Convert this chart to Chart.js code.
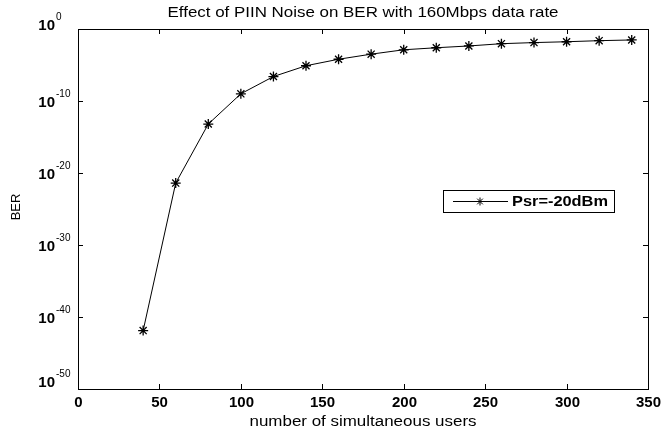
<!DOCTYPE html>
<html>
<head>
<meta charset="utf-8">
<script src="https://cdn.jsdelivr.net/npm/chart.js@4.4.0/dist/chart.umd.min.js"></script>
<style>
html,body{margin:0;padding:0;background:#fff;}
#wrap{width:662px;height:432px;position:relative;}
</style>
</head>
<body>
<div id="wrap"><canvas id="c"></canvas></div>
<script>
// ---- data ----
const users = [40, 60, 80, 100, 120, 140, 160, 180, 200, 220, 240, 260, 280, 300, 320, 340];
const ber = [1.3e-42, 4.0e-22, 6.3e-14, 1.0e-9, 2.5e-7, 7.9e-6, 6.3e-5, 3.2e-4, 1.3e-3, 2.5e-3, 4.4e-3, 9.1e-3, 1.3e-2, 1.7e-2, 2.4e-2, 3.0e-2];
const xTickValues = [0, 50, 100, 150, 200, 250, 300, 350];
const yTickExponents = [0, -10, -20, -30, -40, -50];
const titleText = 'Effect of PIIN Noise on BER with 160Mbps data rate';
const xTitleText = 'number of simultaneous users';
const yTitleText = 'BER';
const seriesLabel = 'Psr=-20dBm';

const FONT = '"Liberation Sans", Arial, sans-serif';

function fitText(ctx, text, x, cy, targetW, align) {
  const w = ctx.measureText(text).width;
  const s = targetW ? targetW / w : 1;
  ctx.save();
  ctx.translate(x, cy);
  ctx.scale(s, 1);
  ctx.textAlign = align || 'center';
  ctx.textBaseline = 'middle';
  ctx.fillText(text, 0, 0);
  ctx.restore();
}

function drawStar(ctx, x, y, r) {
  if (Chart.helpers && Chart.helpers.drawPoint) {
    Chart.helpers.drawPoint(ctx, {pointStyle: 'star', radius: r, rotation: 0, borderWidth: 1}, x, y);
  }
}

const decor = {
  id: 'decor',
  afterDraw(chart) {
    const ctx = chart.ctx;
    const a = chart.chartArea;
    const xs = chart.scales.x, ys = chart.scales.y;
    ctx.save();
    // frame
    ctx.strokeStyle = '#000';
    ctx.lineWidth = 1;
    ctx.strokeRect(Math.round(a.left) + 0.5, Math.round(a.top) + 0.5, Math.round(a.right - a.left), Math.round(a.bottom - a.top));
    // x ticks (inward) and labels
    ctx.fillStyle = '#000';
    ctx.font = 'bold 15px ' + FONT;
    ctx.textAlign = 'center';
    ctx.textBaseline = 'middle';
    ctx.beginPath();
    xTickValues.forEach(v => {
      const px = Math.round(xs.getPixelForValue(v)) + 0.5;
      ctx.moveTo(px, a.bottom); ctx.lineTo(px, a.bottom - 5);
      ctx.moveTo(px, a.top); ctx.lineTo(px, a.top + 5);
      ctx.fillText(String(v), px, a.bottom + 14);
    });
    // y ticks (inward) and labels
    yTickExponents.forEach(e => {
      const py = Math.round(ys.getPixelForValue(Math.pow(10, e))) + 0.5;
      ctx.moveTo(a.left, py); ctx.lineTo(a.left + 5, py);
      ctx.moveTo(a.right, py); ctx.lineTo(a.right - 5, py);
      let off = 1;
      if (e === yTickExponents[0]) off = -4;
      if (e === yTickExponents[yTickExponents.length - 1]) off = -7;
      const yc = py + off;
      ctx.font = 'bold 15px ' + FONT;
      ctx.textAlign = 'right';
      ctx.textBaseline = 'middle';
      ctx.fillText('10', 55, yc);
      ctx.font = '10px ' + FONT;
      ctx.textAlign = 'left';
      ctx.fillText(String(e), 56, yc - 8);
    });
    ctx.stroke();
    // titles
    ctx.font = '14px ' + FONT;
    fitText(ctx, titleText, (a.left + a.right) / 2, 13.5, 391);
    fitText(ctx, xTitleText, (a.left + a.right) / 2, 422, 227);
    ctx.save();
    ctx.translate(16, 207);
    ctx.rotate(-Math.PI / 2);
    ctx.font = '13px ' + FONT;
    fitText(ctx, yTitleText, 0, 0, 0);
    ctx.restore();
    // legend
    ctx.strokeStyle = '#000';
    ctx.lineWidth = 1;
    ctx.strokeRect(443.5, 190.5, 171, 22);
    ctx.beginPath();
    ctx.moveTo(453, 201.5); ctx.lineTo(508, 201.5);
    ctx.stroke();
    ctx.strokeStyle = '#000';
    drawStar(ctx, 480, 201.5, 4);
    ctx.font = 'bold 15px ' + FONT;
    ctx.fillStyle = '#000';
    fitText(ctx, seriesLabel, 512, 202, 96, 'left');
    ctx.restore();
  }
};

new Chart(document.getElementById('c'), {
  type: 'line',
  data: {
    datasets: [{
      label: seriesLabel,
      data: users.map((u, i) => ({x: u, y: ber[i]})),
      borderColor: '#000',
      backgroundColor: '#000',
      borderWidth: 1,
      pointStyle: 'star',
      pointRadius: 5,
      pointBorderWidth: 1.3,
      pointBorderColor: '#000',
      tension: 0,
      fill: false
    }]
  },
  options: {
    responsive: true,
    maintainAspectRatio: false,
    animation: false,
    devicePixelRatio: 1,
    layout: {padding: {left: 78, right: 14, top: 29, bottom: 43}},
    plugins: {legend: {display: false}, title: {display: false}, tooltip: {enabled: false}},
    scales: {
      x: {type: 'linear', min: 0, max: 350, display: false},
      y: {type: 'logarithmic', min: 1e-50, max: 1, display: false}
    }
  },
  plugins: [decor]
});
</script>
</body>
</html>
